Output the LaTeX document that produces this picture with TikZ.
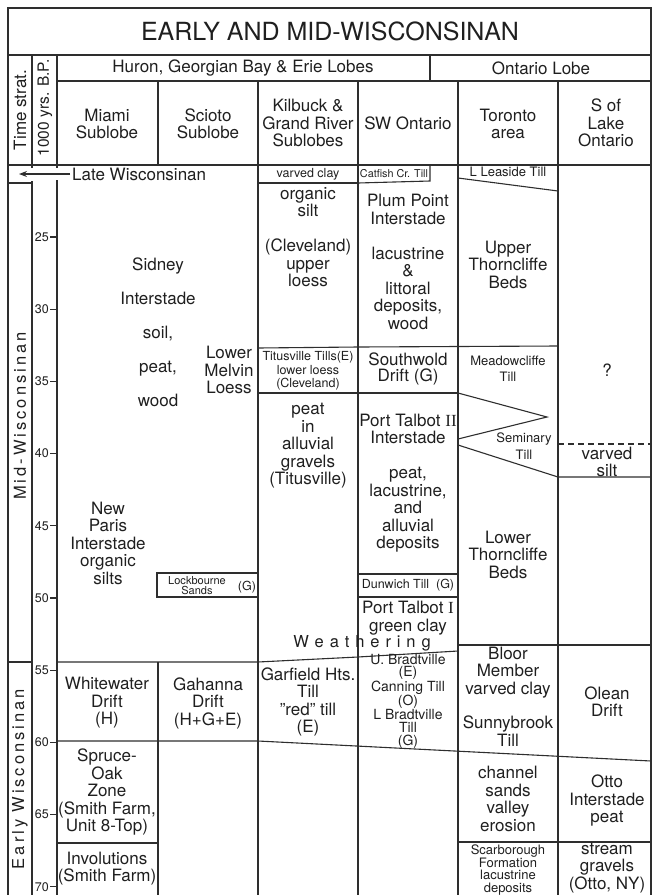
\documentclass[tikz,border=0pt]{standalone}
\usepackage{fontspec}
\setmainfont{TeX Gyre Heros}
\newfontfamily\romanf{Liberation Serif}
\usetikzlibrary{arrows.meta}
\makeatletter
\def\lsp@loop#1{\ifx#1\@nil\else#1\kern\lsgap\relax\expandafter\lsp@loop\fi}
\newcommand\spreadword[2]{\def\lsgap{#1}\lsp@loop#2\@nil\unkern}
\makeatother
\tikzset{
  ln/.style={line width=1.1pt, draw=black!82},
  txt/.style={align=center, inner sep=0pt, text=black!88, font=\fontsize{17}{17.5}\selectfont},
  sm/.style={txt, font=\fontsize{12.5}{13.5}\selectfont},
  ttl/.style={txt, font=\fontsize{25}{28}\selectfont},
  ticklab/.style={txt, anchor=east, font=\fontsize{12.5}{13}\selectfont},
}
\begin{document}
\begin{tikzpicture}[x=1pt,y=-1pt]
\useasboundingbox (0,0) rectangle (652,895);
% ---------- frame and grid ----------
\draw[ln] (8,895) -- (8,8) -- (651,8) -- (651,895);
\draw[ln] (8,55) -- (651,55);
\draw[ln] (57,81) -- (651,81);
\draw[ln] (430,55) -- (430,81);
\draw[ln] (8,165) -- (651,165);
\draw[ln] (32,55) -- (32,168);
\draw[ln] (32,181) -- (32,895);
\draw[ln] (57,55) -- (57,168);
\draw[ln] (57,180) -- (57,895);
\draw[ln] (158,81) -- (158,165);
\draw[ln] (158,662) -- (158,895);
\foreach \xx in {258,358,458,558} \draw[ln] (\xx,81) -- (\xx,895);
% time-strat separators
\draw[ln] (8,183) -- (32,183);
\draw[ln] (8,662) -- (32,662);
% ticks
\foreach \t in {25,30,...,70} {
  \pgfmathsetmacro\yy{237+14.44*(\t-25)}
  \draw[ln] (50,\yy) -- (57,\yy);
  \node[ticklab] (tk\t) at (49,\yy) {\t};
}
% Kilbuck
\draw[ln] (258,183) -- (358,183);
\draw[ln] (258,348) -- (358,347) -- (558,346);
\draw[ln] (258,393) -- (458,393);
% Catfish box
\draw[ln] (358,183) -- (430,181) -- (430,165);
% Dunwich box
\draw[ln] (358,574) -- (458,574);
\draw[ln] (358,597) -- (458,597);
% Lockbourne box
\draw[ln] (258,573) -- (157,573) -- (157,597) -- (258,597);
% weathering line
\draw[ln] (57,662) -- (258,662) -- (358,657) -- (458,651);
\draw[ln] (458,645) -- (651,645);
% 60 ka line
\draw[ln] (57,741) -- (258,741) -- (651,761);
% Toronto
\draw[ln] (458,178) -- (558,191);
\draw[ln] (458,393) -- (547,417) -- (458,439);
\draw[ln] (458,445) -- (558,477) -- (651,477);
\draw[ln, dashed, dash pattern=on 6pt off 4pt] (558,444) -- (651,444);
\draw[ln] (458,842) -- (651,842);
\draw[ln] (57,843) -- (158,843);
% ---------- headers ----------
\node[ttl] (title) at (330,31) {EARLY AND MID-WISCONSINAN};
\node[txt] (huron) at (243,68) {Huron, Georgian Bay \& Erie Lobes};
\node[txt] (ontlobe) at (541,68) {Ontario Lobe};
\node[txt,rotate=90] (timestrat) at (20,110) {Time strat.};
\node[txt,rotate=90,font=\fontsize{15.5}{16}\selectfont] (kyr) at (45,108) {1000 yrs. B.P.};
\node[txt] (hmiami) at (107,124) {Miami\\Sublobe};
\node[txt] (hscioto) at (208,124) {Scioto\\Sublobe};
\node[txt] (hkil) at (308,123) {Kilbuck \&\\Grand River\\Sublobes};
\node[txt] (hsw) at (408,123) {SW Ontario};
\node[txt] (htor) at (508,124) {Toronto\\area};
\node[txt] (hsl) at (606,123) {S of\\Lake\\Ontario};
% time strat labels
\node[txt,rotate=90,font=\fontsize{16.5}{17}\selectfont] (midw) at (20,416) {\spreadword{3pt}{Mid-Wisconsinan}};
\node[txt,rotate=90,font=\fontsize{16.5}{17}\selectfont] (earlyw) at (20,779) {\spreadword{3pt}{Early}\hspace{7pt}\spreadword{3pt}{Wisconsinan}};
% Late Wisconsinan arrow
\node[txt, anchor=west] (latew) at (72,174) {Late Wisconsinan};
\coordinate (lwtip) at (19,174);
\draw[ln, -{Stealth[length=8pt,width=6pt]}] (latew.west) ++(-2,0) -- (lwtip);
% Miami / Scioto
\node[txt] (sidney) at (158,332) {Sidney\\[16.5pt]Interstade\\[16.5pt]soil,\\[16.5pt]peat,\\[16.5pt]wood};
\node[txt] (melvin) at (229,370) {Lower\\Melvin\\Loess};
\node[txt] (newparis) at (108,543) {New\\Paris\\Interstade\\organic\\silts};
\node[txt, font=\fontsize{11}{10.5}\selectfont] (lockb) at (197,585.5) {Lockbourne\\Sands};
\node[txt, font=\fontsize{12.5}{13}\selectfont] (lockg) at (247,587) {(G)};
\node[txt] (whitew) at (107,703) {Whitewater\\Drift\\(H)};
\node[txt] (gahanna) at (208,703) {Gahanna\\Drift\\(H+G+E)};
\node[txt] (spruce) at (107,792) {Spruce-\\Oak\\Zone\\(Smith Farm,\\Unit 8-Top)};
\node[txt] (involut) at (107,868.5) {Involutions\\(Smith Farm)};
% Kilbuck & Grand River
\node[sm] (kvarved) at (308,174) {varved clay};
\node[txt] (korganic) at (308,237) {organic\\silt\\[17.5pt](Cleveland)\\upper\\loess};
\node[sm] (ktitus) at (308,371) {Titusville Tills(E)\\lower loess\\(Cleveland)};
\node[txt] (kpeat) at (308,446) {peat\\in\\alluvial\\gravels\\(Titusville)};
\node[txt] (kgarf) at (308,702) {Garfield Hts.\\Till\\\symbol{34}red\symbol{34} till\\(E)};
\node[txt, font=\fontsize{16.5}{17}\selectfont] (weath) at (362,643) {\spreadword{5.9pt}{Weathering}};
% SW Ontario
\node[txt, font=\fontsize{10.8}{12}\selectfont] (catfish) at (394,174) {Catfish Cr. Till};
\node[txt] (plum) at (408,262) {Plum Point\\Interstade\\[17.5pt]lacustrine\\\&\\littoral\\deposits,\\wood};
\node[txt, font=\fontsize{17}{16}\selectfont] (southw) at (408,369) {Southwold\\Drift (G)};
\node[txt] (pt2) at (408,483) {Port Talbot {\romanf II}\\Interstade\\[17.5pt]peat,\\lacustrine,\\and\\alluvial\\deposits};
\node[sm] (dunwich) at (408,585) {Dunwich Till~~(G)};
\node[txt] (pt1) at (408,618) {Port Talbot {\romanf I}\\green clay};
\node[txt, font=\fontsize{14}{12.7}\selectfont] (bradt) at (408,701) {U. Bradtville\\(E)\\Canning Till\\(O)\\L Bradtville\\Till\\(G)};
% Toronto
\node[sm, font=\fontsize{13}{14}\selectfont] (leaside) at (508,172) {L Leaside Till};
\node[txt] (uthorn) at (508,264.5) {Upper\\Thorncliffe\\Beds};
\node[sm, font=\fontsize{13}{16}\selectfont] (meadow) at (508,369) {Meadowcliffe\\Till};
\node[sm, font=\fontsize{13}{17}\selectfont] (seminary) at (524,446.5) {Seminary\\Till};
\node[txt] (lthorn) at (508,554.5) {Lower\\Thorncliffe\\Beds};
\node[txt] (bloor) at (508,696.5) {Bloor\\Member\\varved clay\\[17pt]Sunnybrook\\Till};
\node[txt] (channel) at (508,799) {channel\\sands\\valley\\erosion};
\node[txt, font=\fontsize{13}{12.7}\selectfont] (scarb) at (508,870) {Scarborough\\Formation\\lacustrine\\deposits};
% S of Lake Ontario
\node[txt] (qmark) at (607,370) {?};
\node[txt] (varsilt) at (607,462) {varved\\silt};
\node[txt] (olean) at (607,701.5) {Olean\\Drift};
\node[txt] (otto) at (607,800.5) {Otto\\Interstade\\peat};
\node[txt] (stream) at (607,868) {stream\\gravels\\(Otto, NY)};
\end{tikzpicture}
\end{document}
